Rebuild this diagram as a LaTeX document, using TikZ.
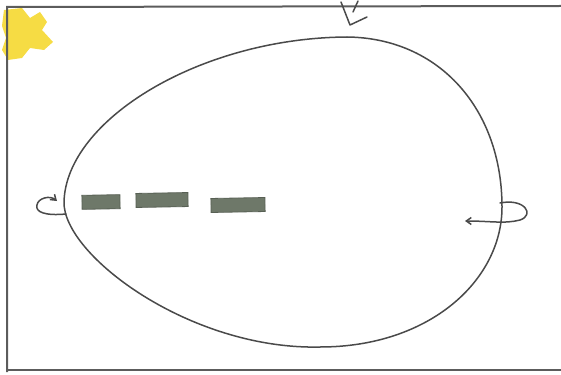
\documentclass[tikz,border=0pt]{standalone}
\usetikzlibrary{arrows.meta}
\definecolor{pencil}{HTML}{4A4A4A}
\definecolor{dashgray}{HTML}{6E7869}
\definecolor{hilite}{HTML}{F5D830}
\tikzset{
  pen/.style={draw=pencil, line width=1.5pt, line cap=round, line join=round},
  framepen/.style={draw=pencil!90, line width=2pt},
  dashbox/.style={draw=dashgray!80!black, fill=dashgray, line width=0.8pt, minimum width=#1, minimum height=14pt, inner sep=0pt, rotate=1},
  tip/.style={-{Straight Barb[length=5pt,width=7pt]}}
}
\begin{document}
\begin{tikzpicture}[x=1pt,y=-1pt]
\useasboundingbox (0,0) rectangle (561,374);
% highlighter blob
\fill[hilite, opacity=0.9] (4,10) -- (22,8) -- (30,18) -- (40,12) -- (47,22) -- (42,30) -- (53,42) -- (44,50) -- (30,48) -- (22,58) -- (8,60) -- (2,50) -- (6,38) -- (2,26) -- cycle;
% frame
\draw[framepen] (7,372) -- (7,7) -- (561,6);
\draw[framepen] (7,370) -- (561,370);
% egg
\coordinate (eggtop) at (347,37);
\coordinate (eggleft) at (64,202);
\coordinate (eggright) at (502,207);
\coordinate (eggbot) at (320,347);
\draw[pen] (eggtop) .. controls (200,38) and (66,120) .. (eggleft)
  .. controls (63,255) and (190,350) .. (eggbot)
  .. controls (430,347) and (502,280) .. (eggright)
  .. controls (502,110) and (440,38) .. (eggtop);
% dashes
\node[dashbox=38pt] (d1) at (101,202) {};
\node[dashbox=52pt] (d2) at (162,200) {};
\node[dashbox=54pt] (d3) at (238,205) {};
% top arrow
\coordinate (topstart) at (341,2);
\coordinate (topend) at (350,25);
\draw[pen] (topstart) -- (topend) -- (367,17);
\draw[pen] (358,1) -- (353,12);
% left loop arrow
\coordinate (lstart) at (66,214);
\coordinate (lend) at (57,201);
\draw[pen, tip] (lstart) .. controls (45,216) and (35,212) .. (37,205)
  .. controls (38,198) and (50,195) .. (lend);
% right loop arrow
\coordinate (rstart) at (500,203);
\coordinate (rend) at (465,221);
\draw[pen, tip] (rstart) .. controls (525,198) and (535,215) .. (520,220)
  .. controls (505,224) and (490,221) .. (rend);
\end{tikzpicture}
\end{document}
